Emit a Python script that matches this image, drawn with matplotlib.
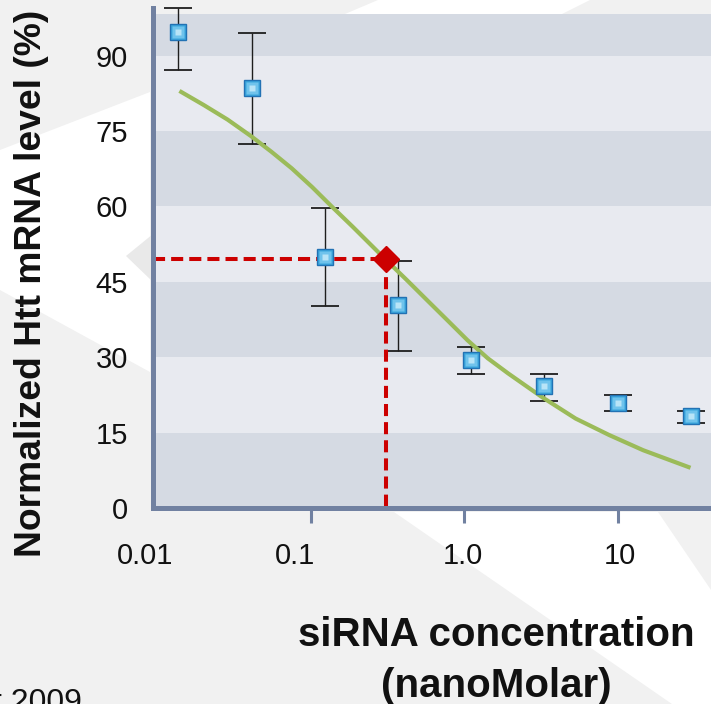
import matplotlib.pyplot as plt
from matplotlib.patches import Polygon
from matplotlib.transforms import ScaledTranslation

plt.rcParams['font.family'] = ['Liberation Sans', 'DejaVu Sans']

# measured points (siRNA concentration in nM, normalized Htt mRNA %)
conc = [0.0137, 0.041, 0.123, 0.37, 1.1, 3.3, 10, 30]
level = [94.7, 83.5, 49.9, 40.4, 29.5, 24.3, 20.9, 18.3]
err_hi = [99.5, 94.5, 59.7, 49.1, 32.0, 26.6, 22.4, 19.3]
err_lo = [87.1, 72.4, 40.2, 31.2, 26.7, 21.2, 19.3, 17.0]

# fitted dose-response curve
fit_x = [0.0139, 0.0200, 0.0286, 0.0407, 0.0552, 0.0749, 0.1015, 0.1376, 0.1866,
         0.2527, 0.310, 0.420, 0.569, 0.772, 1.046, 1.418, 1.923, 3.19, 5.30,
         8.80, 14.6, 29.7]
fit_y = [83.0, 80.2, 77.3, 74.0, 70.9, 67.6, 63.9, 59.9, 56.0,
         52.0, 49.3, 45.4, 41.4, 37.4, 33.4, 29.8, 26.8, 22.1, 17.8,
         14.5, 11.5, 8.0]

# IC50 marker
ic50_x, ic50_y = 0.31, 49.5

band_edges = [0, 15, 30, 45, 60, 75, 90, 98.3]
y_ticks = [0, 15, 30, 45, 60, 75, 90]
x_ticks = [0.01, 0.1, 1, 10]
x_labels = ['0.01', '0.1', '1.0', '10']

W, H = 711, 704
fig = plt.figure(figsize=(W / 100, H / 100), dpi=100, facecolor='#f1f1f1')


def fpt(pts):
    # pixel coords -> figure fraction
    return [(x / W, 1 - y / H) for x, y in pts]


# slide background shapes
for pts, col in [
    ([(345, 14), (378, 0), (590, 0), (562, 14)], 'white'),
    ([(0, 150), (150, 92), (150, 372), (0, 290)], 'white'),
    ([(126, 256), (153, 234), (153, 282)], '#e9e9e9'),
    ([(394, 512), (658, 512), (711, 590), (711, 704), (672, 704)], 'white'),
]:
    fig.add_artist(Polygon(fpt(pts), closed=True, transform=fig.transFigure,
                           facecolor=col, edgecolor='none', zorder=-5))

ax = fig.add_axes([153 / W, (H - 508) / H, (W - 153) / W, 500 / H])
ax.set_facecolor('none')
ax.set_xscale('log')
ax.set_xlim(0.00935, 40.4)
ax.set_ylim(0, 99.5)

# alternating bands
for i in range(len(band_edges) - 1):
    ax.axhspan(band_edges[i], band_edges[i + 1], lw=0, zorder=0,
               color='#d5dae3' if i % 2 == 0 else '#e8eaf0')

# error bars
yerr = [[v - lo for v, lo in zip(level, err_lo)], [hi - v for v, hi in zip(level, err_hi)]]
eb = ax.errorbar(conc, level, yerr=yerr, fmt='none', ecolor='#1e1e1e', elinewidth=1.0,
                 capsize=10.4, capthick=1.3, zorder=2)
for art in eb.lines[1] + eb.lines[2]:
    art.set_clip_on(False)
for cap in eb.lines[1]:
    cap.set_color('#444444')

# fitted curve
ax.plot(fit_x, fit_y, color='#9bbb59', lw=3, solid_capstyle='butt',
        solid_joinstyle='round', zorder=3)

# IC50 guide lines
ax.plot([ax.get_xlim()[0], ic50_x], [ic50_y, ic50_y], color='#cc0000', lw=2.9,
        dashes=(3, 1.5), zorder=4, clip_on=False)
ax.plot([ic50_x, ic50_x], [ic50_y, 0], color='#cc0000', lw=2.9,
        dashes=(3, 1.5), zorder=4)

# data markers with a light centre
ax.plot(conc, level, 's', ms=11.5, mfc='#3aa6dd', mec='#2272b4', mew=1.0, zorder=5)
ax.plot(conc, level, 's', ms=8, mfc='#6fc3ec', mec='none', zorder=6)
ax.plot(conc, level, 's', ms=4.5, mfc='#b8e4f7', mec='none', zorder=7)

ax.plot([ic50_x], [ic50_y], 'D', ms=13.7, color='#cc0000', zorder=8)

# spines
for side in ['top', 'right']:
    ax.spines[side].set_visible(False)
for side in ['left', 'bottom']:
    ax.spines[side].set_color('#7181a1')
    ax.spines[side].set_linewidth(3.6)
    ax.spines[side].set_zorder(9)

ax.set_yticks(y_ticks)
ax.tick_params(axis='y', length=0, pad=18, labelsize=21, labelcolor='#111111')
ax.set_xticks(x_ticks, labels=x_labels)
ax.minorticks_off()
ax.tick_params(axis='x', length=10.8, width=2.2, color='#7181a1', direction='out',
               pad=14, labelsize=21, labelcolor='#111111')
ax.xaxis.get_major_ticks()[0].tick1line.set_visible(False)
for lab, dx in zip(ax.get_xticklabels(), [-12.5, -16, -2, 2]):
    lab.set_transform(lab.get_transform() + ScaledTranslation(dx / 100, 0, fig.dpi_scale_trans))

# axis titles
fig.text(32 / W, 1 - 283 / H, 'Normalized Htt mRNA level (%)', rotation=90,
         ha='center', va='center', fontsize=26.8, fontweight='bold', color='#111111')
fig.text(496 / W, 1 - 646 / H, 'siRNA concentration', ha='center', va='baseline',
         fontsize=29, fontweight='bold', color='#111111')
fig.text(496 / W, 1 - 697 / H, '(nanoMolar)', ha='center', va='baseline',
         fontsize=29, fontweight='bold', color='#111111')

# cut-off citation in the corner
fig.text(-7 / W, 1 - 711 / H, 't 2009', ha='left', va='baseline', fontsize=23,
         color='#111111')

fig.savefig('out.png', dpi=100, facecolor=fig.get_facecolor())
